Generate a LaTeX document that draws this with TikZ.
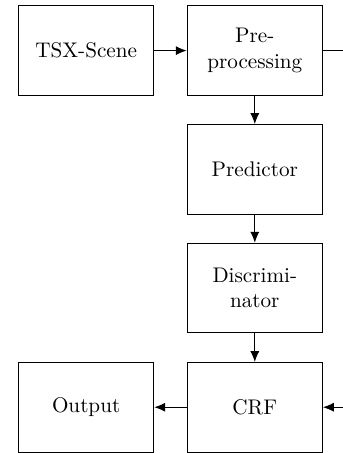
\documentclass[tikz,border=0pt]{standalone}
\usetikzlibrary{arrows.meta}
\begin{document}
\begin{tikzpicture}[
  stagebox/.style={draw, minimum width=2.25cm, minimum height=1.49cm, align=center, inner sep=2pt},
  flow/.style={-{Latex[length=1.8mm,width=1.5mm]}}
]
\useasboundingbox (0,0) rectangle (5.69,-7.52);

\node[stagebox] (scene) at (1.43,-0.84) {TSX-Scene};
\node[stagebox] (prep) at (4.23,-0.84) {Pre-\\processing};
\node[stagebox] (pred) at (4.23,-2.81) {Predictor};
\node[stagebox] (disc) at (4.23,-4.78) {Discrimi-\\nator};
\node[stagebox] (crf) at (4.23,-6.76) {CRF};
\node[stagebox] (out) at (1.43,-6.76) {Output};

\coordinate (prepout) at (5.69,-0.84);
\coordinate (crfin) at (5.69,-6.76);

\draw[flow] (scene) -- (prep);
\draw (prep) -- (prepout);
\draw[flow] (prep) -- (pred);
\draw[flow] (pred) -- (disc);
\draw[flow] (disc) -- (crf);
\draw[flow] (crfin) -- (crf);
\draw[flow] (crf) -- (out);
\end{tikzpicture}
\end{document}
